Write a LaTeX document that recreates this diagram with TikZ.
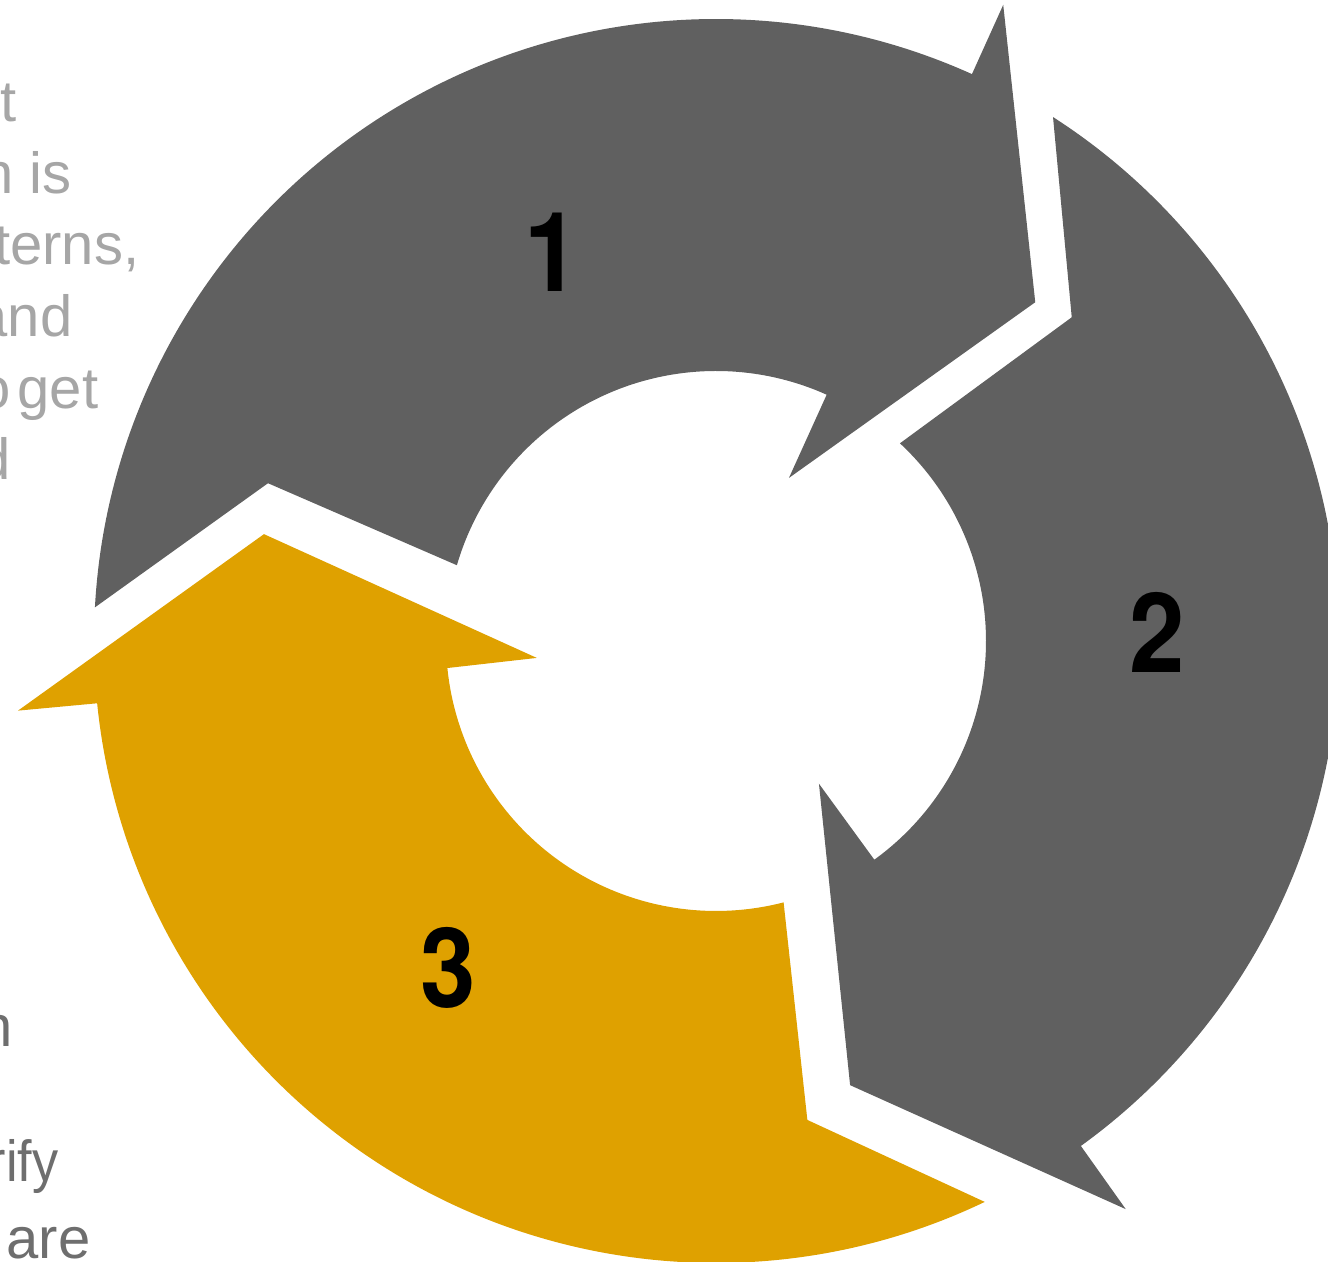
\documentclass[tikz,border=0pt]{standalone}
\usepackage{fontspec}
\setmainfont{Liberation Sans}
\newfontfamily\numfont{TeX Gyre Heros}
\definecolor{arrgray}{RGB}{96,96,96}
\definecolor{arryellow}{RGB}{223,161,0}
\definecolor{textlight}{RGB}{166,166,166}
\definecolor{textdark}{RGB}{110,110,110}
\tikzset{
  lefttext/.style={font=\fontsize{16.5}{20}\selectfont, anchor=base east, inner sep=0pt},
  numlabel/.style={font=\numfont\bfseries\fontsize{31.5}{32}\selectfont, anchor=base, inner sep=0pt, xscale=0.9, text=black}
}
\begin{document}
\begin{tikzpicture}
\useasboundingbox (0,0) rectangle (13.28,12.62);
\clip (0,0) rectangle (13.28,12.62);
% left text fragments
\node[lefttext, text=textlight] (t1) at (0.17,11.40) {t};
\node[lefttext, text=textlight] (t2) at (0.72,10.685) {n is};
\node[lefttext, text=textlight] (t3) at (1.40,9.97) {terns,};
\node[lefttext, text=textlight] (t4) at (0.73,9.25) {and};
\node[lefttext, text=textlight] (t5) at (0.99,8.535) {\spaceskip=0.12em o get};
\node[lefttext, text=textlight] (t6) at (0.11,7.82) {d};
\node[lefttext, text=textdark] (t7) at (0.13,2.15) {n};
\node[lefttext, text=textdark, xscale=0.9] (t8) at (0.59,0.80) {rify};
\node[lefttext, text=textdark] (t9) at (0.91,0.03) {are};
% cycle arrows
\begin{scope}[shift={(7.16,6.21)}]
  \fill[arrgray] (176.9:6.22) arc[start angle=176.9, end angle=65.7, radius=6.22cm]
    -- (65.7:6.98) -- (46.7:4.655) -- (65.9:1.786) -- (65.8:2.70)
    arc[start angle=65.8, end angle=163.7, radius=2.70cm] -- (160.6:4.75) -- cycle;
  \fill[arrgray] (57.25:6.23) arc[start angle=57.25, end angle=-54.15, radius=6.23cm]
    -- (-54.2:7.005) -- (-73.2:4.64) -- (-54.2:1.76) -- (-54.1:2.70)
    arc[start angle=-54.1, end angle=47.06, radius=2.70cm] -- (42.3:4.81) -- cycle;
  \fill[arryellow] (-64.4:6.22) arc[start angle=-64.4, end angle=-174.25, radius=6.22cm]
    -- (-174.3:7.015) -- (166.7:4.645) -- (-174.6:1.80) -- (-174.25:2.70)
    arc[start angle=-174.25, end angle=-75.5, radius=2.70cm] -- (-79.2:4.876) -- cycle;
\end{scope}
% numbers
\node[numlabel] (n1) at (5.52,9.70) {1};
\node[numlabel] (n2) at (11.57,5.89) {2};
\node[numlabel] (n3) at (4.48,2.54) {3};
\end{tikzpicture}
\end{document}
